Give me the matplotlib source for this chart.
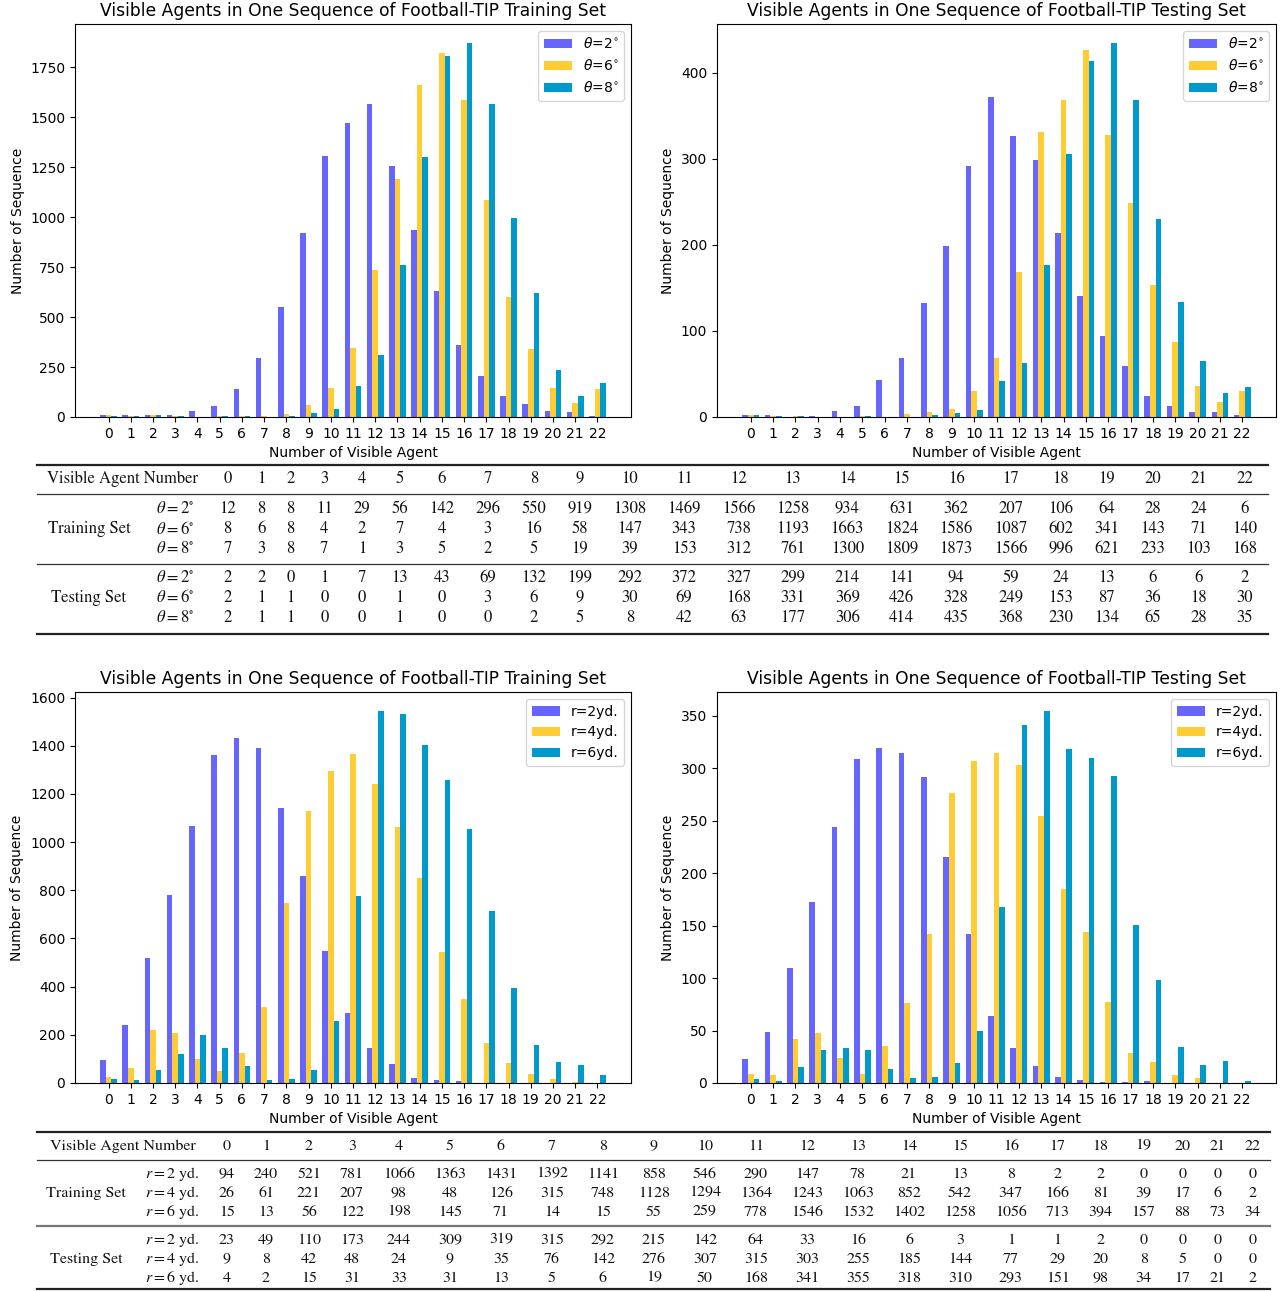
import matplotlib
matplotlib.use("Agg")
import matplotlib.pyplot as plt
import numpy as np

# ---- data -------------------------------------------------------------
AGENTS = list(range(23))

THETA_LEGEND = [r"$\theta$=2$^{\circ}$", r"$\theta$=6$^{\circ}$", r"$\theta$=8$^{\circ}$"]
RADIUS_LEGEND = ["r=2yd.", "r=4yd.", "r=6yd."]
THETA_ROWS = [r"$\theta = 2^{\circ}$", r"$\theta = 6^{\circ}$", r"$\theta = 8^{\circ}$"]
RADIUS_ROWS = [r"$r = 2$ yd.", r"$r = 4$ yd.", r"$r = 6$ yd."]

TRAIN_T2 = [12, 8, 8, 11, 29, 56, 142, 296, 550, 919, 1308, 1469, 1566, 1258, 934, 631, 362, 207, 106, 64, 28, 24, 6]
TRAIN_T6 = [8, 6, 8, 4, 2, 7, 4, 3, 16, 58, 147, 343, 738, 1193, 1663, 1824, 1586, 1087, 602, 341, 143, 71, 140]
TRAIN_T8 = [7, 3, 8, 7, 1, 3, 5, 2, 5, 19, 39, 153, 312, 761, 1300, 1809, 1873, 1566, 996, 621, 233, 103, 168]
TEST_T2 = [2, 2, 0, 1, 7, 13, 43, 69, 132, 199, 292, 372, 327, 299, 214, 141, 94, 59, 24, 13, 6, 6, 2]
TEST_T6 = [2, 1, 1, 0, 0, 1, 0, 3, 6, 9, 30, 69, 168, 331, 369, 426, 328, 249, 153, 87, 36, 18, 30]
TEST_T8 = [2, 1, 1, 0, 0, 1, 0, 0, 2, 5, 8, 42, 63, 177, 306, 414, 435, 368, 230, 134, 65, 28, 35]

TRAIN_R2 = [94, 240, 521, 781, 1066, 1363, 1431, 1392, 1141, 858, 546, 290, 147, 78, 21, 13, 8, 2, 2, 0, 0, 0, 0]
TRAIN_R4 = [26, 61, 221, 207, 98, 48, 126, 315, 748, 1128, 1294, 1364, 1243, 1063, 852, 542, 347, 166, 81, 39, 17, 6, 2]
TRAIN_R6 = [15, 13, 56, 122, 198, 145, 71, 14, 15, 55, 259, 778, 1546, 1532, 1402, 1258, 1056, 713, 394, 157, 88, 73, 34]
TEST_R2 = [23, 49, 110, 173, 244, 309, 319, 315, 292, 215, 142, 64, 33, 16, 6, 3, 1, 1, 2, 0, 0, 0, 0]
TEST_R4 = [9, 8, 42, 48, 24, 9, 35, 76, 142, 276, 307, 315, 303, 255, 185, 144, 77, 29, 20, 8, 5, 0, 0]
TEST_R6 = [4, 2, 15, 31, 33, 31, 13, 5, 6, 19, 50, 168, 341, 355, 318, 310, 293, 151, 98, 34, 17, 21, 2]

TITLE_TRAIN = "Visible Agents in One Sequence of Football-TIP Training Set"
TITLE_TEST = "Visible Agents in One Sequence of Football-TIP Testing Set"

COLORS = ["#6666ff", "#ffcc33", "#0099cc"]
W, H = 1286, 1291


def bars(ax, series, labels, title):
    x = np.array(AGENTS)
    w = 0.25
    for k, (vals, lab, c) in enumerate(zip(series, labels, COLORS)):
        ax.bar(x + (k - 1) * w, vals, width=w, color=c, label=lab)
    ax.set_xticks(x)
    ax.set_xticklabels([str(a) for a in AGENTS])
    ax.set_xlabel("Number of Visible Agent")
    ax.set_ylabel("Number of Sequence")
    ax.set_title(title, fontsize=12.3)
    ax.legend(loc="upper right")


def table(ax, fig, top_rule, header_y, rule1, rows_y, rule2, bottom_rule,
          groups, row_labels, left, right, fs, mid_style):
    r = fig.canvas.get_renderer()
    kw = dict(fontsize=fs, family="STIXGeneral", math_fontfamily="stix",
              ha="center", va="center", color="#111111")

    def width(s):
        t = ax.text(0, 0, s, **kw)
        wd = t.get_window_extent(r).width
        t.remove()
        return wd

    header = "Visible Agent Number"
    cols = [[g[0] for g in groups], row_labels]
    for j, a in enumerate(AGENTS):
        cells = [str(a)] + [str(v[j]) for g in groups for v in g[1]]
        cols.append(cells)
    widths = [max(width(s) for s in c) for c in cols]
    hw = width(header)
    n = len(widths)
    # header spans the two label columns, widen the second one if needed
    for _ in range(3):
        pad = (right - left - sum(widths)) / (2 * n)
        extra = hw - (widths[0] + widths[1] + 2 * pad)
        if extra > 0.5:
            widths[1] += extra
    pad = (right - left - sum(widths)) / (2 * n)

    centers, xx = [], left
    for wd in widths:
        centers.append(xx + pad + wd / 2)
        xx += wd + 2 * pad

    ax.text(left + (widths[0] + widths[1] + 4 * pad) / 2, header_y, header, **kw)
    for j, a in enumerate(AGENTS):
        ax.text(centers[j + 2], header_y, str(a), **kw)
    for gi, (gname, series) in enumerate(groups):
        ys = rows_y[gi * 3:(gi + 1) * 3]
        ax.text(centers[0], ys[1], gname, **kw)
        for ri, vals in enumerate(series):
            ax.text(centers[1], ys[ri], row_labels[ri], **kw)
            for j, v in enumerate(vals):
                ax.text(centers[j + 2], ys[ri], str(v), **kw)

    ax.plot([left, right], [top_rule] * 2, color="#222222", lw=1.6)
    ax.plot([left, right], [rule1] * 2, color="#333333", lw=0.9)
    ax.plot([left, right], [rule2] * 2, **mid_style)
    ax.plot([left, right], [bottom_rule] * 2, color="#222222", lw=1.6)


fig = plt.figure(figsize=(W / 100, H / 100), dpi=100)

def axes_px(l, t, r, b):
    return fig.add_axes([l / W, 1 - b / H, (r - l) / W, (b - t) / H])

ax1 = axes_px(75, 24, 631, 417)
ax2 = axes_px(717, 24, 1276, 417)
ax3 = axes_px(75, 692, 631, 1083)
ax4 = axes_px(717, 692, 1276, 1083)

bars(ax1, [TRAIN_T2, TRAIN_T6, TRAIN_T8], THETA_LEGEND, TITLE_TRAIN)
bars(ax2, [TEST_T2, TEST_T6, TEST_T8], THETA_LEGEND, TITLE_TEST)
bars(ax3, [TRAIN_R2, TRAIN_R4, TRAIN_R6], RADIUS_LEGEND, TITLE_TRAIN)
bars(ax4, [TEST_R2, TEST_R4, TEST_R6], RADIUS_LEGEND, TITLE_TEST)

tab = fig.add_axes([0, 0, 1, 1])
tab.set_xlim(0, W)
tab.set_ylim(H, 0)
tab.axis("off")

table(tab, fig, 465, 479, 494, [509, 529, 549, 578, 598, 618], 564, 634,
      [("Training Set", [TRAIN_T2, TRAIN_T6, TRAIN_T8]),
       ("Testing Set", [TEST_T2, TEST_T6, TEST_T8])],
      THETA_ROWS, 37, 1268, 12, dict(color="#333333", lw=0.9))
table(tab, fig, 1132, 1146, 1160, [1174, 1193, 1212, 1240, 1259, 1278], 1226, 1289,
      [("Training Set", [TRAIN_R2, TRAIN_R4, TRAIN_R6]),
       ("Testing Set", [TEST_R2, TEST_R4, TEST_R6])],
      RADIUS_ROWS, 37, 1270, 11.5, dict(color="#777777", lw=1.6))

fig.savefig("out.png", dpi=100)
